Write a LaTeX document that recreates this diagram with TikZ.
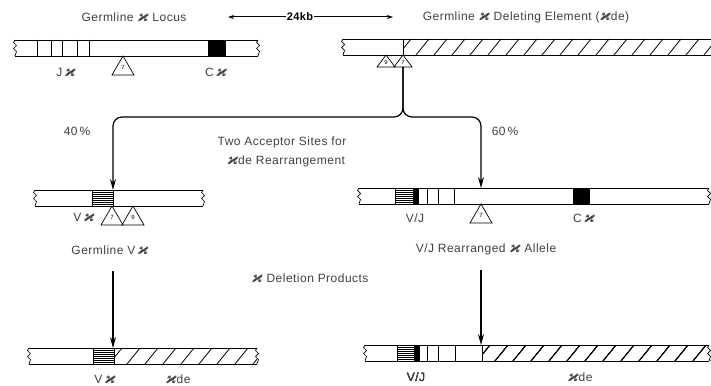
\documentclass[tikz,border=0pt]{standalone}
\usepackage{amssymb}
\usepackage{bm}
\usepackage{fontspec}
\setmainfont[LetterSpace=4]{Liberation Sans}
\usetikzlibrary{arrows.meta}

\tikzset{
  lbl/.style={font=\fontsize{12}{14}\selectfont, text=black!75, inner sep=1pt},
  bar/.style={line width=0.9pt},
  thinbar/.style={line width=0.7pt},
  hatchline/.style={line width=0.8pt},
  num/.style={font=\fontsize{6}{6}\selectfont, inner sep=0pt},
  split/.style={line width=1.2pt, -{Stealth[length=11pt,width=6pt]}},
}

\newcommand\kap{{\fontsize{15}{15}\selectfont$\bm{\varkappa}$}}
% x, ytop : small break mark, bar height 16
\newcommand\brkend[2]{%
  \draw[thinbar] (#1,#2) -- ++(-1.5,2.5) -- ++(3,3) -- ++(-3,3) -- ++(3,3) -- ++(-1.5,4.5);}
% x1, x2, ytop
\newcommand\chrom[3]{%
  \draw[bar] (#1,#3) -- (#2,#3) (#1,#3+16) -- (#2,#3+16);
  \brkend{#1}{#3}\brkend{#2}{#3}}
% x1, x2, ytop
\newcommand\hatchfill[3]{%
  \begin{scope}
    \clip (#1,#3) rectangle (#2,#3+16);
    \foreach \h in {0,18,...,330} \draw[hatchline] (#1+\h-5,#3+16) -- ++(13,-16);
  \end{scope}}
% x1, x2, ytop
\newcommand\vblock[3]{%
  \draw[thinbar] (#1,#3) rectangle (#2,#3+16);
  \foreach \s in {2,4,...,14} \draw[line width=0.5pt] (#1,#3+\s) -- (#2,#3+\s);}
% x, ytop
\newcommand\jseg[2]{\draw[thinbar] (#1,#2) -- (#1,#2+16);}
% name, apex x, apex y, width, height, number
\newcommand\site[6]{%
  \draw[thinbar] (#2,#3) -- (#2-#4/2,#3+#5) -- (#2+#4/2,#3+#5) -- cycle;
  \node[num] (#1) at (#2,#3+0.62*#5) {#6};
  \coordinate (#1-base) at (#2,#3+#5);}

\begin{document}
\begin{tikzpicture}[x=1pt,y=-1pt]
\useasboundingbox (0,0) rectangle (711,385);

% top row
\node[lbl] (t-locus) at (134,17) {Germline \kap{} Locus};
\node[lbl, font=\fontsize{11}{13}\selectfont\bfseries, text=black] (kb) at (300,17) {24kb};
\coordinate (kb-l) at (228,17);
\coordinate (kb-r) at (393,17);
\draw[line width=1pt, -{Stealth[length=6pt,width=4pt]}] (kb) -- (kb-l);
\draw[line width=1pt, -{Stealth[length=6pt,width=4pt]}] (kb) -- (kb-r);
\node[lbl] (t-kde) at (526,17) {Germline \kap{} Deleting Element (\kap de)};

\chrom{15}{258}{40}
\foreach \x in {37,51,62,77,89} \jseg{\x}{40}
\fill (208,40) rectangle (226,56);
\site{loc7}{123}{56}{22}{19}{7}
\node[lbl] (jk) at (66,72) {J\,\kap};
\node[lbl] (ck) at (216,72) {C\,\kap};

\chrom{343}{740}{39}
\jseg{403}{39}
\hatchfill{403}{711}{39}
\site{kde9}{386}{55}{18}{12}{9}
\site{kde7}{403}{55}{18}{12}{7}

% branches
\coordinate (gv-cut) at (113,190);
\coordinate (vj-cut) at (481,188);
\draw[split, rounded corners=9pt] (kde7-base) -- (403,117) -| (gv-cut);
\draw[split, rounded corners=9pt] (kde7-base) -- (403,117) -| (vj-cut);
\node[lbl] (p40) at (77,131) {40\,\%};
\node[lbl] (p60) at (505,131) {60\,\%};
\node[lbl] (acc1) at (282,142) {Two Acceptor Sites for};
\node[lbl] (acc2) at (286,161) {\kap de Rearrangement};

% middle row, germline V
\chrom{35}{203}{190}
\vblock{92}{113}{190}
\site{gv7}{112}{206}{22}{19}{7}
\site{gv9}{133}{206}{22}{19}{9}
\node[lbl] (vk1) at (84,217) {V\,\kap};
\node[lbl] (gvk) at (110,250) {Germline V\,\kap};

% middle row, V/J allele
\chrom{359}{709}{188}
\vblock{395}{413}{188}
\fill (413,188) rectangle (419,204);
\foreach \x in {427,438,454} \jseg{\x}{188}
\fill (573,188) rectangle (590,204);
\site{vj7}{481}{204}{22}{19}{7}
\node[lbl] (vj1) at (415,218) {V/J};
\node[lbl] (ck2) at (584,218) {C\,\kap};
\node[lbl] (vja) at (486,249) {V/J Rearranged \kap{} Allele};

\node[lbl] (delp) at (310,278) {\kap{} Deletion Products};

% deletion arrows
\coordinate (gv-from) at (113,271);
\coordinate (gv-to) at (113,348);
\coordinate (vj-from) at (481,270);
\coordinate (vj-to) at (481,345);
\draw[split] (gv-from) -- (gv-to);
\draw[split] (vj-from) -- (vj-to);

% bottom row
\chrom{29}{257}{348}
\vblock{93}{114}{348}
\hatchfill{114}{257}{348}
\node[lbl] (vk2) at (105,379) {V\,\kap};
\node[lbl] (kde1) at (178,379) {\kap de};

\chrom{365}{709}{345}
\vblock{397}{414}{345}
\fill (414,345) rectangle (420,361);
\foreach \x in {427,438,455,482} \jseg{\x}{345}
\hatchfill{482}{711}{345}
\node[lbl] (vj2) at (416,377) {V/J};
\node[lbl] (kde2) at (580,377) {\kap de};
\end{tikzpicture}
\end{document}
